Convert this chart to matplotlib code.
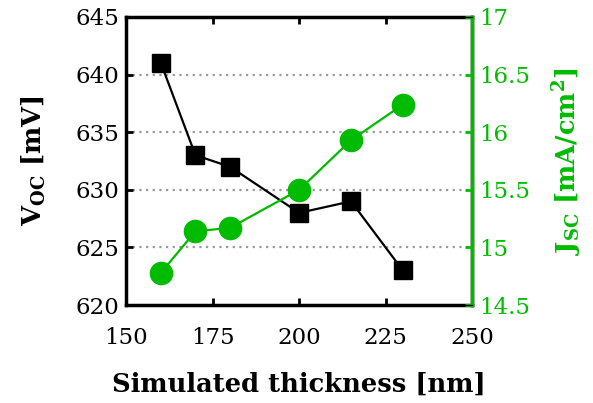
import matplotlib
matplotlib.use("Agg")
import matplotlib.pyplot as plt

plt.rcParams['font.family'] = ['DejaVu Serif']
plt.rcParams['mathtext.fontset'] = 'dejavuserif'

thickness = [160, 170, 180, 200, 215, 230]
voc = [641, 633, 632, 628, 629, 623]
jsc = [14.78, 15.14, 15.17, 15.50, 15.93, 16.24]

green = '#00bb00'

fig, ax = plt.subplots(figsize=(5.93, 4.03), dpi=100)
fig.subplots_adjust(left=0.213, right=0.796, top=0.958, bottom=0.243)

ax.plot(thickness, voc, color='black', lw=1.6, marker='s', ms=13, zorder=3)
ax.set_xlim(150, 250)
ax.set_ylim(620, 645)
ax.set_xticks([150, 175, 200, 225, 250])
ax.set_yticks([620, 625, 630, 635, 640, 645])
for y in [625, 630, 635, 640]:
    ax.axhline(y, color='#999999', ls=(0, (1, 2)), lw=1.6, zorder=1)
ax.tick_params(direction='in', width=2, length=5, labelsize=16.5, top=True, pad=5)
ax.tick_params(axis='x', pad=16)
for s in ax.spines.values():
    s.set_linewidth(2.5)
ax.set_xlabel('Simulated thickness [nm]', fontsize=18.5, fontweight='bold', labelpad=16)
ax.set_ylabel(r'$\mathbf{V_{OC}}$ [mV]', fontsize=18.5, fontweight='bold', labelpad=20)

ax2 = ax.twinx()
ax2.plot(thickness, jsc, color=green, lw=1.6, marker='o', ms=16, zorder=3)
ax2.set_ylim(14.5, 17)
ax2.set_yticks([14.5, 15, 15.5, 16, 16.5, 17])
ax2.set_yticklabels(['14.5', '15', '15.5', '16', '16.5', '17'])
ax2.tick_params(direction='in', width=2, length=5, labelsize=16.5, colors=green, pad=5)
ax2.spines['right'].set_color(green)
ax2.spines['right'].set_linewidth(2.5)
ax2.set_ylabel(r'$\mathbf{J_{SC}}$ [mA/cm$^\mathbf{2}$]', fontsize=18.5, fontweight='bold',
               color=green, labelpad=15)

fig.savefig('out.png', dpi=100)
